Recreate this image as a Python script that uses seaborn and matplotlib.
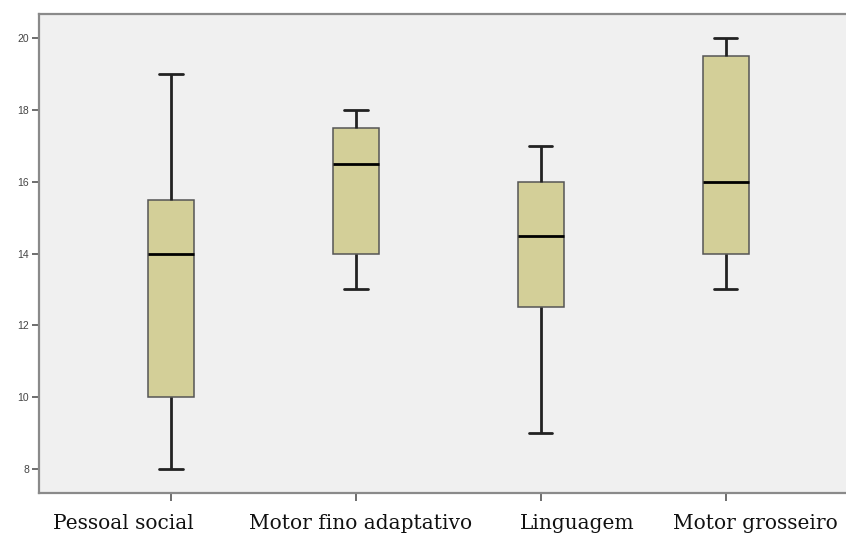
import matplotlib
matplotlib.use("Agg")
import matplotlib.pyplot as plt
import matplotlib.transforms as mtransforms
import pandas as pd
import seaborn as sns


CATEGORIES = ["Pessoal social", "Motor fino adaptativo", "Linguagem", "Motor grosseiro"]
# five-number summaries: min, Q1, median, Q3, max
PESSOAL_SOCIAL = [8, 10, 14, 15.5, 19]
MOTOR_FINO = [13, 14, 16.5, 17.5, 18]
LINGUAGEM = [9, 12.5, 14.5, 16, 17]
MOTOR_GROSSEIRO = [13, 14, 16, 19.5, 20]
Y_TICKS = [8, 10, 12, 14, 16, 18, 20]

BOX_COLOR = "#d3cf98"
BG_COLOR = "#f0f0f0"
FRAME_COLOR = "#8a8a8a"
# the labels in the original sit a bit off their ticks (pixels)
LABEL_SHIFT_PX = [-48, 5, 36, 30]


def build_frame():
    rows = []
    for name, values in zip(CATEGORIES, [PESSOAL_SOCIAL, MOTOR_FINO, LINGUAGEM, MOTOR_GROSSEIRO]):
        rows += [{"dominio": name, "score": v} for v in values]
    return pd.DataFrame(rows)


def main():
    sns.set_theme(style="white")
    df = build_frame()

    fig = plt.figure(figsize=(8.46, 5.33), dpi=100)
    ax = fig.add_axes([39 / 846, 40 / 533, 1 - 39 / 846, 479 / 533])
    ax.set_facecolor(BG_COLOR)

    sns.boxplot(
        data=df,
        x="dominio",
        y="score",
        order=CATEGORIES,
        width=0.25,
        whis=(0, 100),
        color=BOX_COLOR,
        saturation=1,
        linecolor="#3a3a3a",
        boxprops={"facecolor": BOX_COLOR, "edgecolor": "#555555", "linewidth": 1.1},
        medianprops={"color": "black", "linewidth": 2},
        whiskerprops={"color": "#222222", "linewidth": 2},
        capprops={"color": "#222222", "linewidth": 2},
        ax=ax,
    )

    ax.set_xlim(-0.714, 3.65)
    ax.set_ylim(7.33, 20.67)
    ax.set_yticks(Y_TICKS)
    ax.set_yticklabels([str(t) for t in Y_TICKS], fontsize=7.5, color="#444444",
                       family="Liberation Sans")
    ax.set_xticks(range(len(CATEGORIES)))
    ax.set_xticklabels(CATEGORIES, fontsize=14.5, family="DejaVu Serif", color="#111111")
    ax.tick_params(axis="y", which="major", left=True, length=5, width=1.2,
                   color="#555555", pad=2)
    ax.tick_params(axis="x", which="major", bottom=True, length=6, width=1.2,
                   color="#555555", pad=9)
    for label, shift in zip(ax.get_xticklabels(), LABEL_SHIFT_PX):
        offset = mtransforms.ScaledTranslation(shift / 100, 0, fig.dpi_scale_trans)
        label.set_transform(label.get_transform() + offset)
    ax.set_xlabel("")
    ax.set_ylabel("")

    for side in ["left", "top", "bottom"]:
        ax.spines[side].set_color(FRAME_COLOR)
        ax.spines[side].set_linewidth(1.6)
    ax.spines["right"].set_visible(False)

    fig.savefig("out.png", dpi=100, facecolor="white")
    plt.close(fig)


if __name__ == "__main__":
    main()
